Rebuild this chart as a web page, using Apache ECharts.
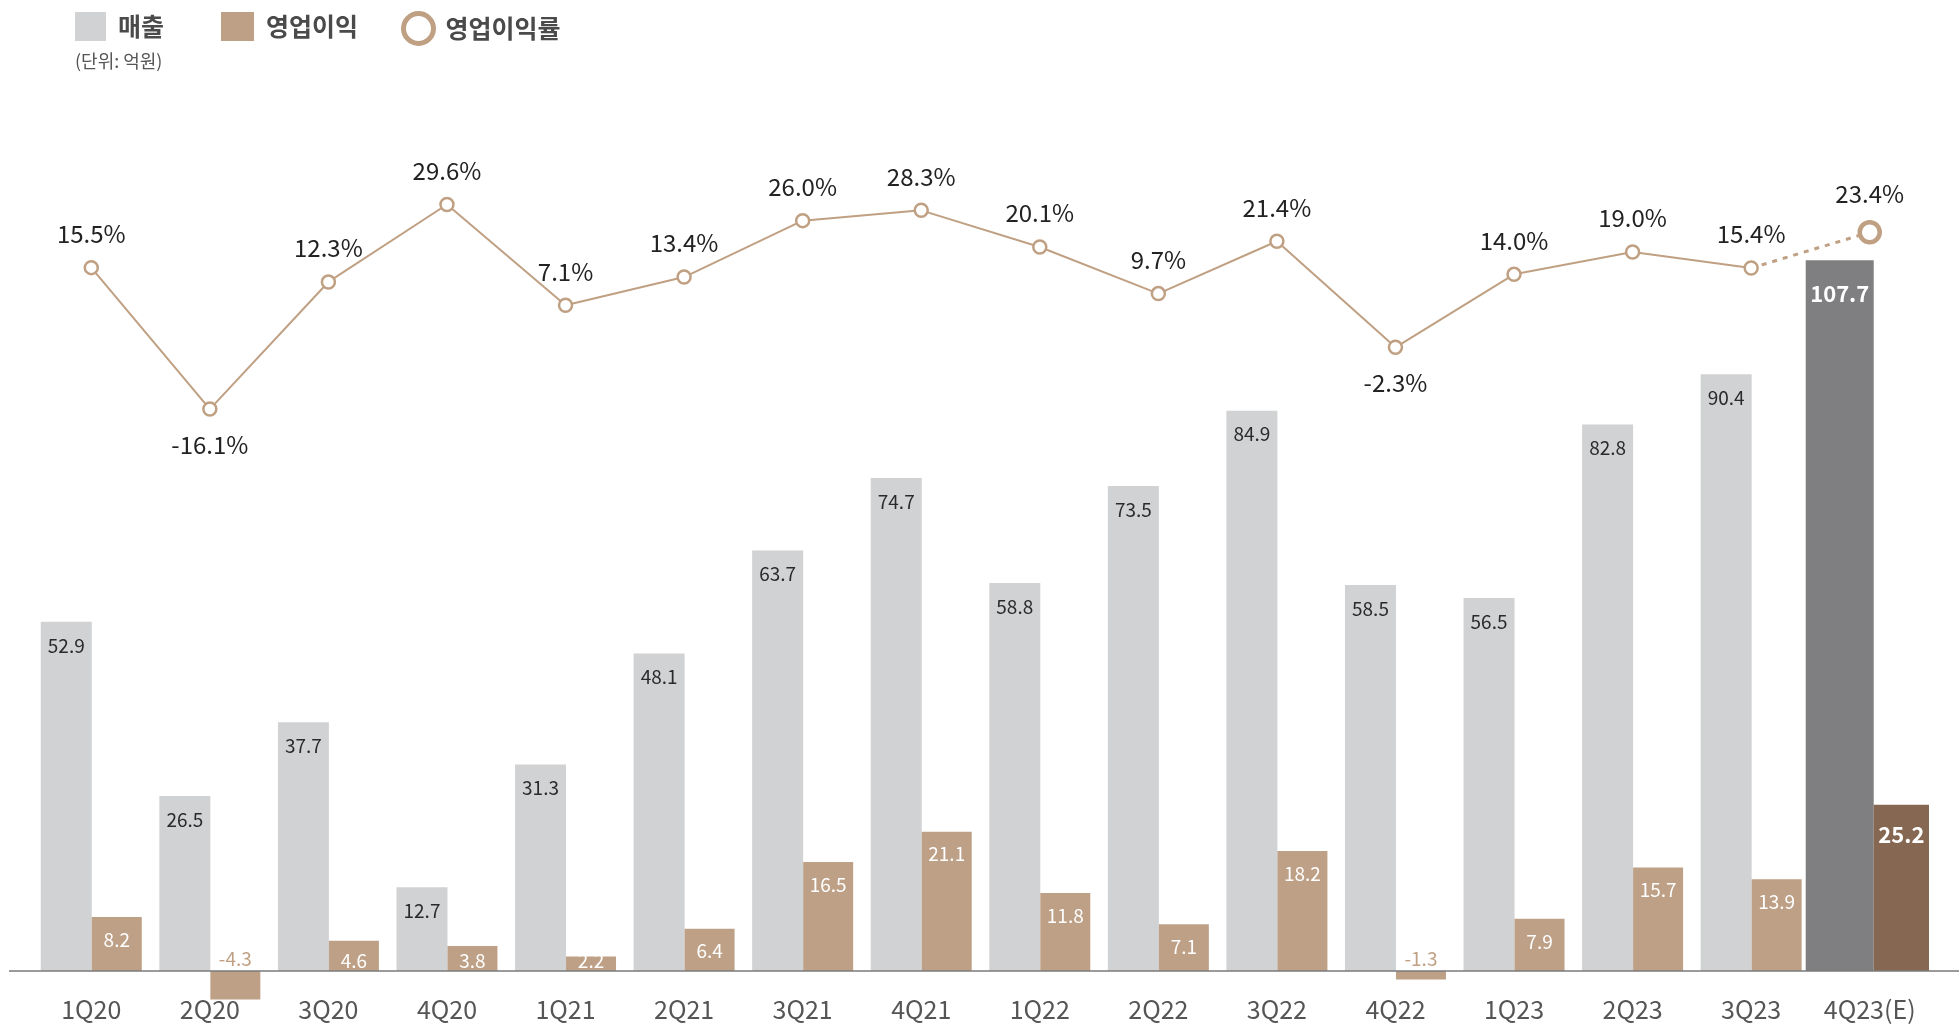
<!DOCTYPE html>
<html>
<head>
<meta charset="utf-8">
<script src="https://cdn.jsdelivr.net/npm/echarts@6/dist/echarts.min.js"></script>
<style>
  html, body { margin: 0; padding: 0; background: #fff; }
  #main { width: 1959px; height: 1027px; }
</style>
</head>
<body>
<div id="main"></div>
<script>
var quarters = ['1Q20','2Q20','3Q20','4Q20','1Q21','2Q21','3Q21','4Q21','1Q22','2Q22','3Q22','4Q22','1Q23','2Q23','3Q23','4Q23(E)'];
// 매출 (억원)
var sales = [52.9, 26.5, 37.7, 12.7, 31.3, 48.1, 63.7, 74.7, 58.8, 73.5, 84.9, 58.5, 56.5, 82.8, 90.4, 107.7];
// 영업이익 (억원)
var profit = [8.2, -4.3, 4.6, 3.8, 2.2, 6.4, 16.5, 21.1, 11.8, 7.1, 18.2, -1.3, 7.9, 15.7, 13.9, 25.2];
// 영업이익률 (%)
var margin = [15.5, -16.1, 12.3, 29.6, 7.1, 13.4, 26.0, 28.3, 20.1, 9.7, 21.4, -2.3, 14.0, 19.0, 15.4, 23.4];

var FONT = '"Noto Sans CJK KR", "Noto Sans", sans-serif';
var last = quarters.length - 1;

var myChart = echarts.init(document.getElementById('main'));

// 실적 분기(마지막 추정치 제외)
function actual(arr, fn) {
    return arr.map(function (v, i) {
        if (i === last) return '-';
        return fn ? fn(v, i) : v;
    });
}
// 추정 분기만
function estimate(arr) {
    return arr.map(function (v, i) { return i === last ? v : '-'; });
}

var profitData = actual(profit, function (v) {
    if (v < 0) {
        return { value: v, label: { position: 'top', color: '#c0a083', distance: 3 } };
    }
    if (v < 5) {
        // 짧은 막대는 라벨을 아래쪽에
        return { value: v, label: { position: 'insideBottom', distance: 1 } };
    }
    return v;
});

var marginSolid = actual(margin, function (v) {
    if (v < 0) return { value: v, label: { position: 'bottom', distance: 16 } };
    return v;
});
var marginDash = margin.map(function (v, i) {
    if (i === last) return v;
    if (i === last - 1) return { value: v, symbolSize: 0, label: { show: false } };
    return '-';
});

var legendText = { fontFamily: FONT, fontSize: 25, fontWeight: 'bold', color: '#4a4a4a', padding: [0, 0, 0, 7] };

option = {
    animation: false,
    backgroundColor: '#fff',
    title: {
        text: '(단위: 억원)',
        left: 75,
        top: 52,
        padding: 0,
        textStyle: { fontFamily: FONT, fontSize: 18, fontWeight: 'normal', color: '#555' }
    },
    legend: [
        { data: ['매출'], left: 75, top: 12, padding: 0, itemWidth: 31, itemHeight: 29, icon: 'rect', textStyle: legendText },
        { data: ['영업이익'], left: 221, top: 12, padding: 0, itemWidth: 33, itemHeight: 29, icon: 'rect', textStyle: legendText },
        {
            data: [{ name: '영업이익률', icon: 'circle', itemStyle: { color: '#fff', borderColor: '#c0a083', borderWidth: 5 } }],
            left: 401, top: 11, padding: 0, itemWidth: 30, itemHeight: 30, textStyle: legendText
        }
    ],
    grid: { left: 32, right: 30, top: 179, bottom: 23, outerBoundsMode: 'none', containLabel: false },
    xAxis: [
        {
            type: 'category',
            data: quarters,
            axisLine: { show: false, onZero: false },
            axisTick: { show: false },
            axisLabel: { interval: 0, fontFamily: FONT, fontSize: 25, color: '#555', margin: -7 }
        },
        { type: 'category', data: quarters, show: false, position: 'bottom', axisLine: { onZero: false } }
    ],
    yAxis: [
        { type: 'value', min: -5, max: 120, show: false, splitLine: { show: false } },
        { type: 'value', min: -149, max: 35.3, show: false, splitLine: { show: false } }
    ],
    series: [
        {
            name: '매출', type: 'bar', data: actual(sales), barWidth: 51, barGap: '0%',
            itemStyle: { color: '#d1d2d4' },
            label: { show: true, position: 'insideTop', distance: 14, fontFamily: FONT, fontSize: 19, color: '#2a2a2a' }
        },
        {
            name: '영업이익', type: 'bar', data: profitData, barWidth: 50, barGap: '0%',
            itemStyle: { color: '#bea086' },
            label: { show: true, position: 'insideTop', distance: 13, fontFamily: FONT, fontSize: 19, color: '#fff' }
        },
        {
            name: '매출E', type: 'bar', xAxisIndex: 1, data: estimate(sales), barWidth: 68, barGap: '0%',
            itemStyle: { color: '#7f7f81' },
            label: { show: true, position: 'insideTop', distance: 22, fontFamily: FONT, fontSize: 22, fontWeight: 'bold', color: '#fff' }
        },
        {
            name: '영업이익E', type: 'bar', xAxisIndex: 1, data: estimate(profit), barWidth: 60, barGap: '0%',
            itemStyle: { color: '#866751' },
            label: { show: true, position: 'insideTop', distance: 19, fontFamily: FONT, fontSize: 22, fontWeight: 'bold', color: '#fff' }
        },
        {
            name: '영업이익률', type: 'line', yAxisIndex: 1, data: marginSolid,
            symbol: 'circle', symbolSize: 13,
            lineStyle: { color: '#c0a083', width: 2 },
            itemStyle: { color: '#fff', borderColor: '#c0a083', borderWidth: 2.5 },
            label: {
                show: true, position: 'top', distance: 14, fontFamily: FONT, fontSize: 24, color: '#222',
                formatter: function (p) { return p.value.toFixed(1) + '%'; }
            },
            z: 5
        },
        {
            name: '영업이익률E', type: 'line', yAxisIndex: 1, data: marginDash,
            symbol: 'circle', symbolSize: 20,
            lineStyle: { color: '#c0a083', width: 3, type: [5, 6] },
            itemStyle: { color: '#fff', borderColor: '#c0a083', borderWidth: 4.5 },
            label: {
                show: true, position: 'top', distance: 14, fontFamily: FONT, fontSize: 24, color: '#222',
                formatter: function (p) { return p.value.toFixed(1) + '%'; }
            },
            z: 4
        }
    ]
};
myChart.setOption(option);

// 기준선 (0 위치, 화면 폭 전체)
var zeroY = myChart.convertToPixel({ yAxisIndex: 0 }, 0);
myChart.setOption({
    graphic: [{
        type: 'line', z: 10,
        shape: { x1: 9, y1: zeroY, x2: 1959, y2: zeroY },
        style: { stroke: '#7a7a7a', lineWidth: 1.5 }
    }]
});
</script>
</body>
</html>
